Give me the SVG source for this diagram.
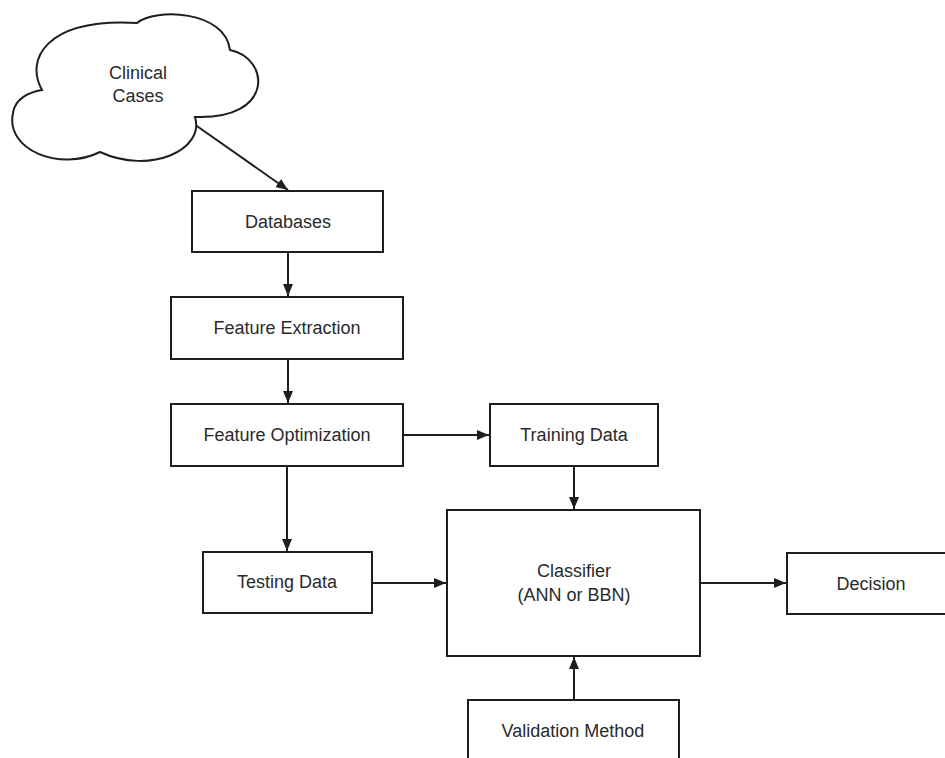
<svg xmlns="http://www.w3.org/2000/svg" width="945" height="758" viewBox="0 0 945 758">
  <defs>
    <marker id="arrow" viewBox="0 0 12 10" refX="12" refY="5" markerWidth="12" markerHeight="10" markerUnits="userSpaceOnUse" orient="auto">
      <path d="M0,0 L12,5 L0,10 Z" fill="#1e1e1e"/>
    </marker>
    <style>
      .box { fill: #ffffff; stroke: #1e1e1e; stroke-width: 2; }
      .lbl { font-family: "Liberation Sans", Arial, sans-serif; font-size: 18px; fill: #2a2a2a; text-anchor: middle; }
      .edge { fill: none; stroke: #1e1e1e; stroke-width: 2; marker-end: url(#arrow); }
    </style>
  </defs>
  <rect width="945" height="758" fill="#ffffff"/>

  <!-- connectors -->
  <g id="connectors">
    <line class="edge" x1="194" y1="124" x2="288" y2="190"/>
    <line class="edge" x1="288" y1="252" x2="288" y2="296"/>
    <line class="edge" x1="288" y1="359" x2="288" y2="403"/>
    <line class="edge" x1="403" y1="435" x2="489" y2="435"/>
    <line class="edge" x1="574" y1="466" x2="574" y2="509"/>
    <line class="edge" x1="287" y1="466" x2="287" y2="551"/>
    <line class="edge" x1="372" y1="583" x2="446" y2="583"/>
    <line class="edge" x1="700" y1="583" x2="786" y2="583"/>
    <line class="edge" x1="574" y1="700" x2="574" y2="657"/>
  </g>

  <g id="clinical-cases">
    <path class="box" d="M42,90 C25,60 45,18 137,23 C155,8 225,10 230,50 C270,58 275,120 195,117 C205,150 150,175 100,152 C60,172 5,150 13,113 C15,98 30,92 42,90 Z"/>
    <text class="lbl" x="138" y="79">Clinical</text>
    <text class="lbl" x="138" y="102">Cases</text>
  </g>

  <g id="databases">
    <rect class="box" x="192" y="191" width="191" height="61"/>
    <text class="lbl" x="288" y="228">Databases</text>
  </g>

  <g id="feature-extraction">
    <rect class="box" x="171" y="297" width="232" height="62"/>
    <text class="lbl" x="287" y="334">Feature Extraction</text>
  </g>

  <g id="feature-optimization">
    <rect class="box" x="171" y="404" width="232" height="62"/>
    <text class="lbl" x="287" y="441">Feature Optimization</text>
  </g>

  <g id="training-data">
    <rect class="box" x="490" y="404" width="168" height="62"/>
    <text class="lbl" x="574" y="441">Training Data</text>
  </g>

  <g id="testing-data">
    <rect class="box" x="203" y="552" width="169" height="61"/>
    <text class="lbl" x="287" y="588">Testing Data</text>
  </g>

  <g id="classifier">
    <rect class="box" x="447" y="510" width="253" height="146"/>
    <text class="lbl" x="574" y="577">Classifier</text>
    <text class="lbl" x="574" y="601">(ANN or BBN)</text>
  </g>

  <g id="decision">
    <rect class="box" x="787" y="553" width="170" height="61"/>
    <text class="lbl" x="871" y="590">Decision</text>
  </g>

  <g id="validation-method">
    <rect class="box" x="468" y="700" width="211" height="70"/>
    <text class="lbl" x="573" y="737">Validation Method</text>
  </g>
</svg>
